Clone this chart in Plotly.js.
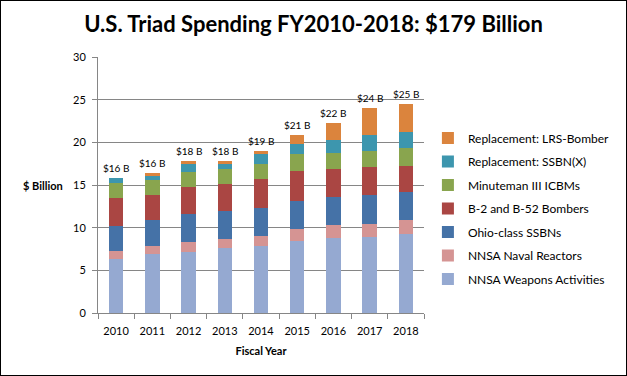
<!DOCTYPE html>
<html><head><meta charset="utf-8">
<script src="https://cdn.plot.ly/plotly-3.0.1.min.js"></script>
<style>
html,body{margin:0;padding:0;background:#fff;}
#wrap{position:relative;width:627px;height:376px;}
#frame{position:absolute;left:0;top:0;width:627px;height:376px;box-sizing:border-box;border:1px solid #000;pointer-events:none;}
</style></head>
<body><div id="wrap"><div id="chart" style="width:627px;height:376px;"></div><div id="frame"></div></div>
<script>
const years = ['2010','2011','2012','2013','2014','2015','2016','2017','2018'];
const weapons   = [6.33, 6.95, 7.19, 7.66, 7.85, 8.40, 8.83, 8.90, 9.26];
const naval     = [0.97, 0.90, 1.13, 1.01, 1.17, 1.44, 1.48, 1.53, 1.64];
const ohio      = [2.94, 3.09, 3.32, 3.28, 3.28, 3.28, 3.28, 3.40, 3.28];
const bombers   = [3.24, 2.89, 3.13, 3.17, 3.40, 3.51, 3.29, 3.28, 3.05];
const minuteman = [1.75, 1.76, 1.75, 1.76, 1.76, 1.99, 1.87, 1.87, 2.11];
const ssbnx     = [0.59, 0.58, 0.98, 0.62, 1.17, 1.17, 1.52, 1.88, 1.87];
const lrs       = [0.00, 0.23, 0.31, 0.31, 0.35, 1.06, 2.00, 3.16, 3.28];
const totalLabels = ['$16 B','$16 B','$18 B','$18 B','$19 B','$21 B','$22 B','$24 B','$25 B'];

const seriesNames = ['NNSA Weapons Activities','NNSA Naval Reactors','Ohio-class SSBNs','B-2 and B-52 Bombers','Minuteman III ICBMs','Replacement: SSBN(X)','Replacement: LRS-Bomber'];
const seriesData = [weapons, naval, ohio, bombers, minuteman, ssbnx, lrs];
const colors = ['#95A9D1','#D59493','#4572A7','#AA4643','#89A54E','#3D96AE','#DB843D'];

const FONT = 'Lato, sans-serif';
const traces = seriesNames.map((n,i)=>({
  type:'bar', name:n, x:years, y:seriesData[i], legendgroup:'g'+i,
  legendrank: seriesNames.length - i,
  marker:{color:colors[i]}
}));

const totals = years.map((_,j)=>seriesData.reduce((s,a)=>s+a[j],0));
// category index j of the x axis
const annotations = years.map((yr,j)=>({
  x:j, y:totals[j], xref:'x', yref:'y', text:totalLabels[j], showarrow:false,
  yanchor:'bottom', yshift:2, font:{family:FONT, size:10, color:'#000'}
}));
annotations.push({xref:'paper', yref:'paper', x:-0.1, y:0.5, xanchor:'right', yanchor:'middle',
  text:'<b>$ Billion</b>', showarrow:false, font:{family:FONT, size:11, color:'#000'}});

const layout = {
  width:627, height:376,
  margin:{l:98, r:191, t:57, b:63},
  paper_bgcolor:'#fff', plot_bgcolor:'#fff',
  barmode:'stack', bargap:0.6,
  title:{text:'<b>U.S. Triad Spending FY2010-2018: $179 Billion</b>', x:0.5, xref:'container', xanchor:'center',
    y:0.935, yref:'container', yanchor:'middle', font:{family:FONT, size:22, color:'#000'}},
  showlegend:true,
  legend:{traceorder:'grouped', tracegroupgap:4.5, x:1.012, xanchor:'left', y:0.408, yanchor:'middle',
    font:{family:FONT, size:12, color:'#000'},
    bgcolor:'rgba(0,0,0,0)'},
  xaxis:{type:'category', showline:true, linecolor:'#868686', linewidth:1,
    ticks:'outside', tickson:'boundaries', ticklen:5, tickcolor:'#868686', ticklabelstandoff:8,
    tickfont:{family:FONT, size:11, color:'#000'},
    title:{text:'<b>Fiscal Year</b>', standoff:11, font:{family:FONT, size:11, color:'#000'}}},
  yaxis:{range:[0,30], dtick:5, showgrid:true, gridcolor:'#868686', gridwidth:1,
    showline:true, linecolor:'#868686', linewidth:1, ticks:'outside', ticklen:5, tickcolor:'#868686',
    ticklabelstandoff:4,
    zeroline:false, tickfont:{family:FONT, size:11, color:'#000'}},
  annotations:annotations
};
Plotly.newPlot('chart', traces, layout, {displayModeBar:false});
</script></body></html>
